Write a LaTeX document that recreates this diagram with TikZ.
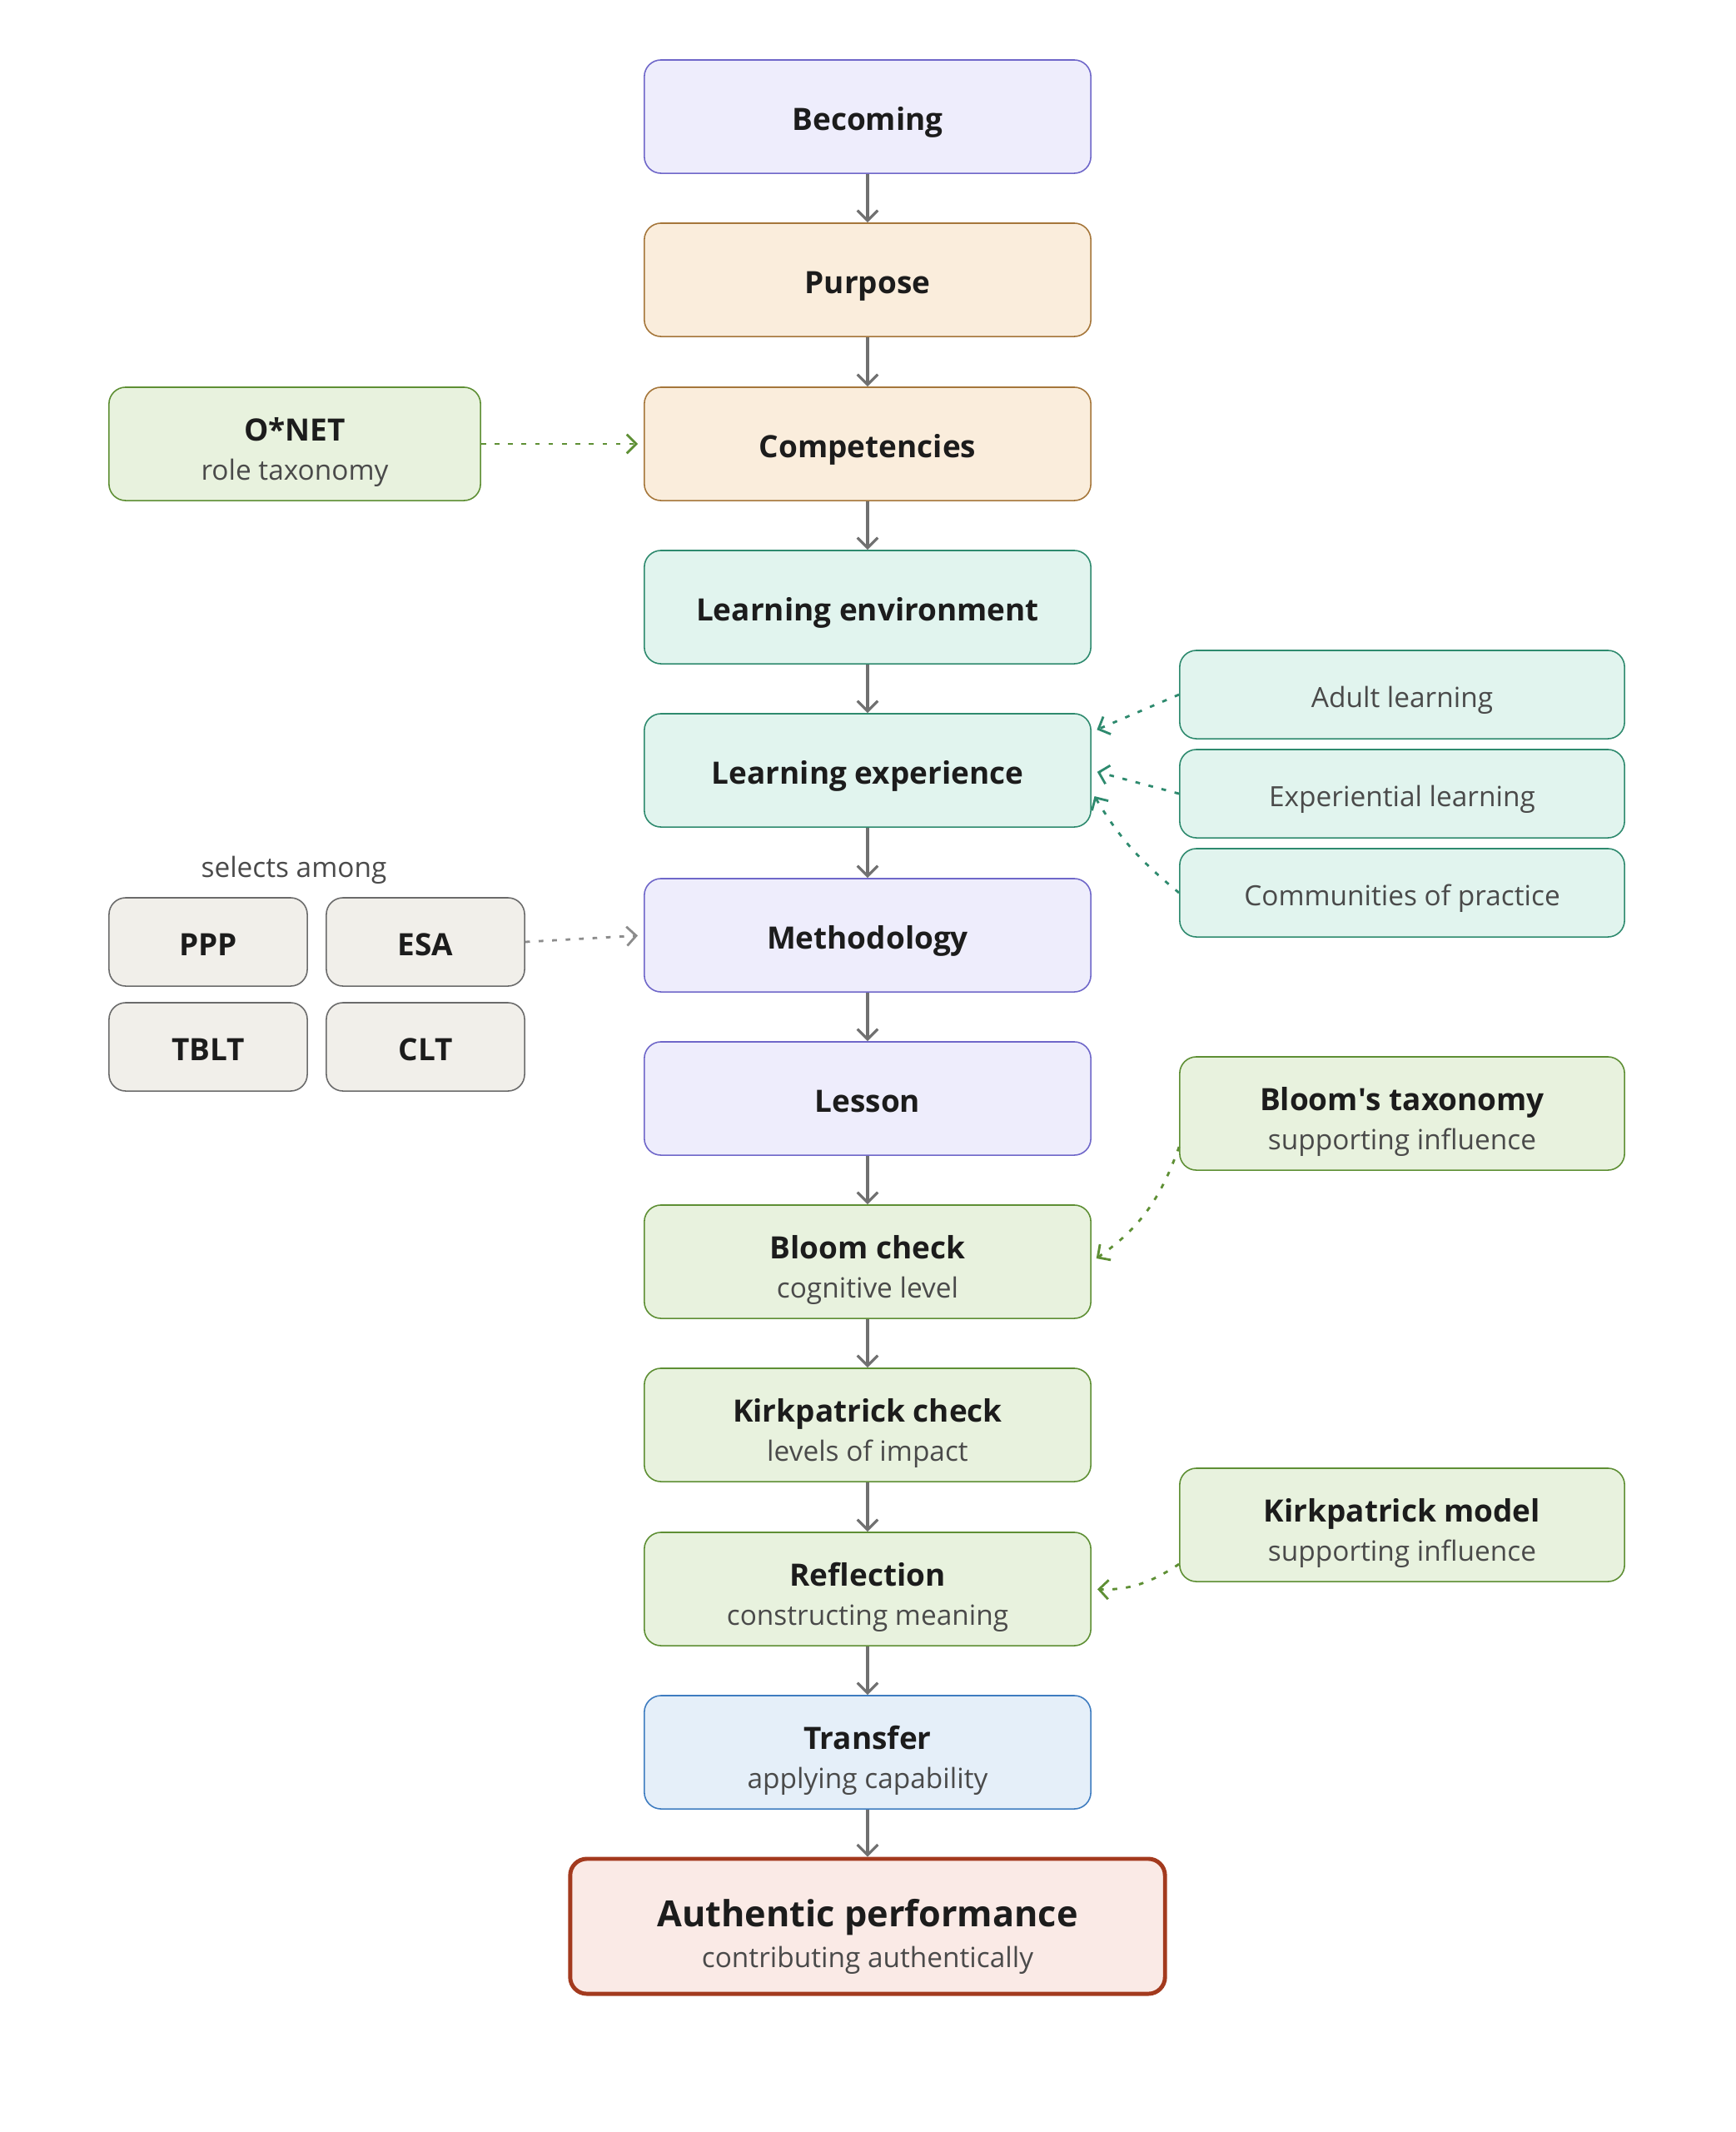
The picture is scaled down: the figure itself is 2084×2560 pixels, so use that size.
\documentclass[tikz,border=0pt]{standalone}
\usepackage{fontspec}
\setmainfont{Open Sans}
\usetikzlibrary{arrows.meta,calc}

\definecolor{lavfill}{HTML}{EEEDFC}\definecolor{lavline}{HTML}{6F67C9}
\definecolor{peachfill}{HTML}{FAEDDC}\definecolor{peachline}{HTML}{A5763A}
\definecolor{mintfill}{HTML}{E1F4EE}\definecolor{mintline}{HTML}{2E8A6E}
\definecolor{leaffill}{HTML}{E8F2DE}\definecolor{leafline}{HTML}{5E8F34}
\definecolor{skyfill}{HTML}{E5EFF9}\definecolor{skyline}{HTML}{3E7CC0}
\definecolor{rustfill}{HTML}{FAEAE6}\definecolor{rustline}{HTML}{A33A1E}
\definecolor{stonefill}{HTML}{F1EFEA}\definecolor{stoneline}{HTML}{6B6B6B}
\definecolor{flowgrey}{HTML}{707070}\definecolor{hintgrey}{HTML}{8C8C8C}
\definecolor{inktext}{HTML}{1C1C1C}\definecolor{subtext}{HTML}{4A4A4A}

\newcommand{\subline}[1]{{\normalfont\fontsize{9.5}{13.5}\selectfont\color{subtext}#1}}

\begin{document}
\begin{tikzpicture}[x=0.01cm,y=0.01cm,
  box/.style={draw,rounded corners=0.2cm,line width=0.45pt,align=center,inner sep=0pt,
    text=inktext,font=\fontsize{10.5}{13.5}\selectfont\bfseries,text height=9.4pt,text depth=0pt},
  twoline/.style={text height=25pt},
  mainbox/.style={box,minimum width=5.36cm,minimum height=1.36cm},
  sidebox/.style={box,minimum width=5.34cm,minimum height=1.06cm,
    text=subtext,font=\fontsize{9.5}{12}\selectfont,text height=8.6pt},
  stonebox/.style={box,fill=stonefill,draw=stoneline,minimum width=2.38cm,minimum height=1.06cm},
  lav/.style={fill=lavfill,draw=lavline},
  peach/.style={fill=peachfill,draw=peachline},
  mint/.style={fill=mintfill,draw=mintline},
  leaf/.style={fill=leaffill,draw=leafline},
  flow/.style={draw=flowgrey,line width=0.9pt,-{Straight Barb[length=3.5pt,width=7pt]}},
  hint/.style={line width=0.8pt,dash pattern=on 1.6pt off 3pt,shorten >=2pt,
    -{Straight Barb[length=3.2pt,width=6.5pt]}}]
  \useasboundingbox (0,0) rectangle (2084,-2560);

  % main column
  \node[mainbox,lav] (becoming) at (1042,-140) {Becoming};
  \node[mainbox,peach] (purpose) at (1042,-336) {Purpose};
  \node[mainbox,peach] (compet) at (1042,-533) {Competencies};
  \node[mainbox,mint] (learnenv) at (1042,-729) {Learning environment};
  \node[mainbox,mint] (learnexp) at (1042,-925) {Learning experience};
  \node[mainbox,lav] (method) at (1042,-1123) {Methodology};
  \node[mainbox,lav] (lesson) at (1042,-1319) {Lesson};
  \node[mainbox,leaf,twoline] (bloomchk) at (1042,-1515) {Bloom check\\\subline{cognitive level}};
  \node[mainbox,leaf,twoline] (kirkchk) at (1042,-1711) {Kirkpatrick check\\\subline{levels of impact}};
  \node[mainbox,leaf,twoline] (reflect) at (1042,-1908) {Reflection\\\subline{constructing meaning}};
  \node[mainbox,twoline,fill=skyfill,draw=skyline] (transfer) at (1042,-2104) {Transfer\\\subline{applying capability}};
  \node[box,fill=rustfill,draw=rustline,line width=1.4pt,minimum width=7.14cm,minimum height=1.62cm,
    font=\fontsize{12.3}{14.2}\selectfont\bfseries,text height=28.4pt] (authentic) at (1042,-2313)
    {Authentic performance\\\subline{contributing authentically}};

  \foreach \a/\b in {becoming/purpose,purpose/compet,compet/learnenv,learnenv/learnexp,
    learnexp/method,method/lesson,lesson/bloomchk,bloomchk/kirkchk,kirkchk/reflect,
    reflect/transfer,transfer/authentic}
    \draw[flow] (\a) -- (\b);

  % left side
  \node[box,leaf,twoline,minimum width=4.46cm,minimum height=1.36cm] (onet) at (354,-533) {O*NET\\\subline{role taxonomy}};
  \node[text=subtext,font=\fontsize{9.5}{12}\selectfont] (selects) at (353,-1045) {selects among};
  \node[stonebox] (ppp) at (250,-1131) {PPP};
  \node[stonebox] (esa) at (511,-1131) {ESA};
  \node[stonebox] (tblt) at (250,-1257) {TBLT};
  \node[stonebox] (clt) at (511,-1257) {CLT};

  \draw[hint,leafline] (onet) -- (compet);
  \draw[hint,hintgrey] (esa.east) -- (method.west);

  % right side
  \node[sidebox,mint] (adult) at (1684,-834) {Adult learning};
  \node[sidebox,mint] (exper) at (1684,-953) {Experiential learning};
  \node[sidebox,mint] (commun) at (1684,-1072) {Communities of practice};
  \node[box,leaf,twoline,minimum width=5.34cm,minimum height=1.36cm] (bloomtax) at (1684,-1337)
    {Bloom\textquotesingle s taxonomy\\\subline{supporting influence}};
  \node[box,leaf,twoline,minimum width=5.34cm,minimum height=1.36cm] (kirkmod) at (1684,-1831)
    {Kirkpatrick model\\\subline{supporting influence}};

  \draw[hint,mintline] (adult.west) -- ([yshift=0.46cm]learnexp.east);
  \draw[hint,mintline] (exper.west) -- (learnexp.east);
  \draw[hint,mintline] (commun.west) to[bend left=10] ([yshift=-0.25cm]learnexp.east);
  \draw[hint,leafline] ([yshift=-0.4cm]bloomtax.west) to[bend left=18] (bloomchk.east);
  \draw[hint,leafline] ([yshift=-0.47cm]kirkmod.west) to[bend left=18] (reflect.east);
\end{tikzpicture}
\end{document}
